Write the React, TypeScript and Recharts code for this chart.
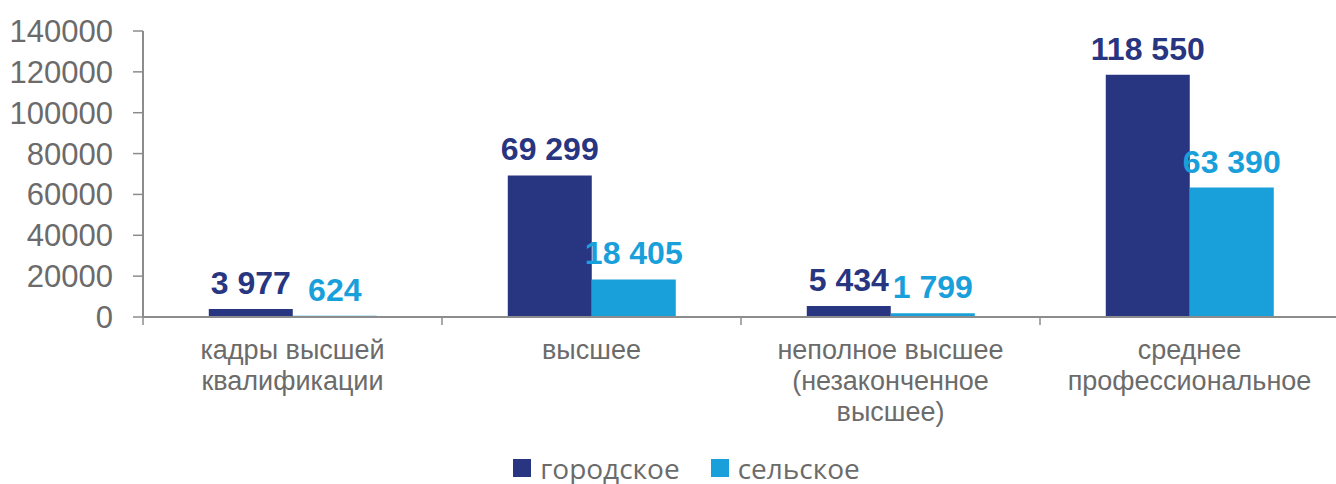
import { BarChart, Bar, XAxis, YAxis, LabelList, Legend } from "recharts";

const categories = [
  "кадры высшей квалификации",
  "высшее",
  "неполное высшее (незаконченное высшее)",
  "среднее профессиональное",
];
const categoryLines = [
  ["кадры высшей", "квалификации"],
  ["высшее"],
  ["неполное высшее", "(незаконченное", "высшее)"],
  ["среднее", "профессиональное"],
];
const urban = [3977, 69299, 5434, 118550];
const rural = [624, 18405, 1799, 63390];
const seriesNames = ["городское", "сельское"];
const yTicks = [0, 20000, 40000, 60000, 80000, 100000, 120000, 140000];

const DARK = "#283580";
const LIGHT = "#19a0db";
const GRAY = "#6b6b6b";
const AXIS = "#8c8c8c";
const FONT = "'Liberation Sans', Arial, sans-serif";

const data = categories.map((name, i) => ({
  name,
  urban: urban[i],
  rural: rural[i],
}));

const fmt = (v: any) => String(v).replace(/\B(?=(\d{3})+(?!\d))/g, " ");

function CategoryTick(props: any) {
  const { x, y, payload } = props;
  const idx = categories.indexOf(payload.value);
  const half = payload.offset || 149.5;
  const lines = categoryLines[idx] || [payload.value];
  return (
    <g>
      <line x1={x - half} x2={x - half} y1={y} y2={y + 8} stroke={AXIS} strokeWidth={1.5} />
      {idx === categories.length - 1 && (
        <line x1={x + half} x2={x + half} y1={y} y2={y + 8} stroke={AXIS} strokeWidth={1.5} />
      )}
      <text textAnchor="middle" fill={GRAY} fontSize={27} fontFamily={FONT}>
        {lines.map((l, i) => (
          <tspan key={i} x={x} y={y + 42 + i * 31}>
            {l}
          </tspan>
        ))}
      </text>
    </g>
  );
}

function renderLegend() {
  const colors = [DARK, LIGHT];
  return (
    <div
      style={{
        display: "flex",
        justifyContent: "center",
        alignItems: "center",
        height: 30,
        paddingLeft: 34,
        fontFamily: "'Open Sans', sans-serif",
        fontSize: 28,
        lineHeight: "30px",
        color: GRAY,
      }}
    >
      {seriesNames.map((n, i) => (
        <div key={n} style={{ display: "flex", alignItems: "center", marginLeft: i ? 31 : 0 }}>
          <span style={{ width: 18, height: 18, background: colors[i], marginRight: 9, display: "inline-block" }} />
          <span>{n}</span>
        </div>
      ))}
    </div>
  );
}

export default function App() {
  return (
    <div style={{ position: "absolute", left: 0, top: 0, width: 1336, height: 484, overflow: "hidden", background: "#fff" }}>
      <BarChart
        width={1345}
        height={484}
        data={data}
        margin={{ top: 31, right: 6, left: 0, bottom: 1 }}
        barCategoryGap="22%"
        barGap={0}
      >
        <YAxis
          width={143}
          domain={[0, 140000]}
          ticks={yTicks}
          interval={0}
          tickSize={10}
          tickMargin={20}
          axisLine={{ stroke: AXIS, strokeWidth: 2 }}
          tickLine={{ stroke: AXIS, strokeWidth: 1.5 }}
          tick={{ fill: GRAY, fontSize: 31, fontFamily: FONT }}
        />
        <XAxis
          dataKey="name"
          height={136}
          interval={0}
          tickSize={0}
          tickMargin={0}
          axisLine={{ stroke: AXIS, strokeWidth: 2 }}
          tickLine={false}
          tick={<CategoryTick />}
        />
        <Legend verticalAlign="bottom" content={renderLegend} />
        <Bar dataKey="urban" name={seriesNames[0]} fill={DARK} isAnimationActive={false}>
          <LabelList
            dataKey="urban"
            position="top"
            offset={15}
            formatter={fmt}
            fill={DARK}
            style={{ fontSize: 32, fontWeight: 700, fontFamily: FONT }}
          />
        </Bar>
        <Bar dataKey="rural" name={seriesNames[1]} fill={LIGHT} isAnimationActive={false}>
          <LabelList
            dataKey="rural"
            position="top"
            offset={15}
            formatter={fmt}
            fill={LIGHT}
            style={{ fontSize: 32, fontWeight: 700, fontFamily: FONT }}
          />
        </Bar>
      </BarChart>
    </div>
  );
}
